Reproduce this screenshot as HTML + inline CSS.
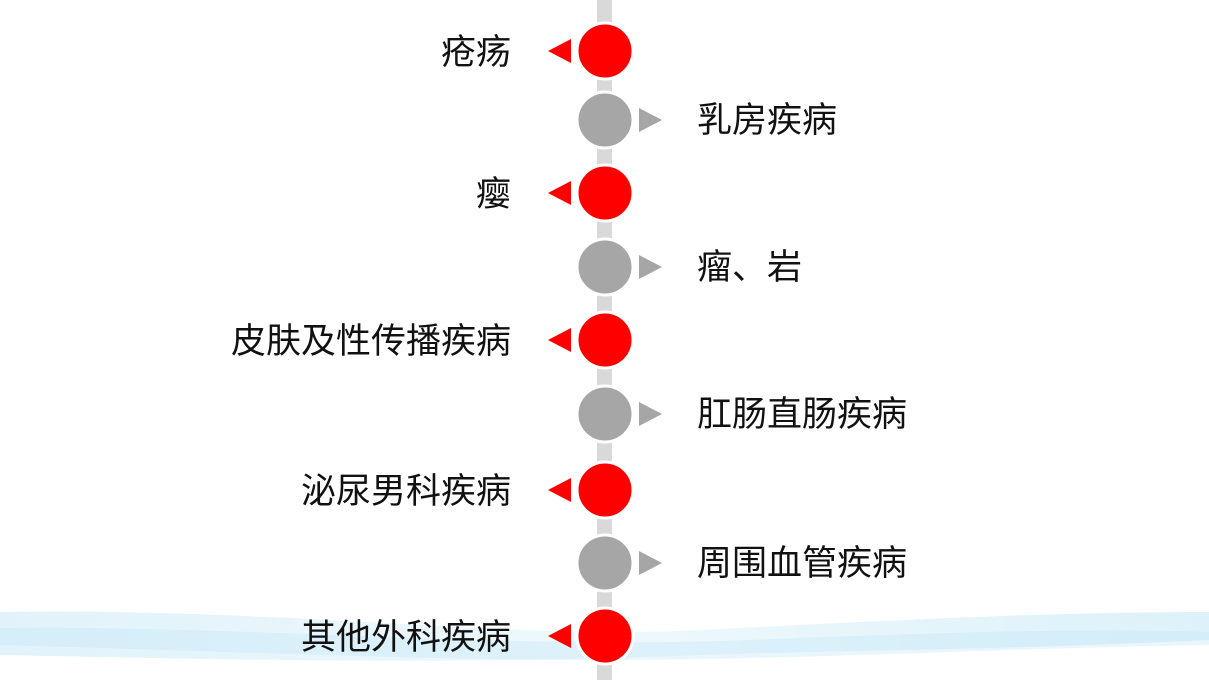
<!DOCTYPE html>
<html><head><meta charset="utf-8"><style>
body{margin:0;width:1209px;height:680px;overflow:hidden;background:#fff;position:relative;font-family:"Liberation Sans","Noto Sans CJK SC",sans-serif;}
.t{position:absolute;font-size:35px;color:#111;line-height:40px;white-space:nowrap}
.l{right:698px;text-align:right}
.r{left:697px}
</style></head><body>
<svg width="1209" height="680" style="position:absolute;left:0;top:0">
<defs>
<linearGradient id="g" x1="0" y1="0" x2="1" y2="0">
<stop offset="0" stop-color="#cdeaf7"/>
<stop offset="0.5" stop-color="#e3f4fb"/>
<stop offset="1" stop-color="#c6e8f6"/>
</linearGradient>
</defs>
<path d="M0 612 C300 608 500 640 700 630 C900 620 1050 612 1209 612 L1209 640 C1000 650 850 650 700 655 C450 665 250 660 0 655 Z" fill="url(#g)" opacity="0.6"/>
<path d="M0 628 C250 625 500 650 750 640 C950 632 1100 628 1209 632 L1209 645 C1000 648 800 660 600 660 C400 660 200 650 0 645 Z" fill="#bfe5f5" opacity="0.35"/>
<rect x="597" y="0" width="15" height="680" fill="#d9d9d9"/>
<g stroke="#fff" stroke-width="3">
<circle cx="605" cy="51" r="28" fill="#ff0000"/>
<circle cx="605" cy="120" r="28" fill="#a6a6a6"/>
<circle cx="605" cy="193" r="28" fill="#ff0000"/>
<circle cx="605" cy="267" r="28" fill="#a6a6a6"/>
<circle cx="605" cy="340" r="28" fill="#ff0000"/>
<circle cx="605" cy="414" r="28" fill="#a6a6a6"/>
<circle cx="605" cy="490" r="28" fill="#ff0000"/>
<circle cx="605" cy="563" r="28" fill="#a6a6a6"/>
<circle cx="605" cy="636" r="28" fill="#ff0000"/>
</g>
<g fill="#ff0000">
<polygon points="548,51 571,39 571,63"/>
<polygon points="548,193 571,181 571,205"/>
<polygon points="548,340 571,328 571,352"/>
<polygon points="548,490 571,478 571,502"/>
<polygon points="548,636 571,624 571,648"/>
</g>
<g fill="#a6a6a6">
<polygon points="662,120 639,108 639,132"/>
<polygon points="662,267 639,255 639,279"/>
<polygon points="662,414 639,402 639,426"/>
<polygon points="662,563 639,551 639,575"/>
</g>
</svg>
<div class="t l" style="top:33px">疮疡</div>
<div class="t r" style="top:101px">乳房疾病</div>
<div class="t l" style="top:175px">瘿</div>
<div class="t r" style="top:248px">瘤、岩</div>
<div class="t l" style="top:322px">皮肤及性传播疾病</div>
<div class="t r" style="top:395px">肛肠直肠疾病</div>
<div class="t l" style="top:472px">泌尿男科疾病</div>
<div class="t r" style="top:544px">周围血管疾病</div>
<div class="t l" style="top:618px">其他外科疾病</div>
</body></html>
